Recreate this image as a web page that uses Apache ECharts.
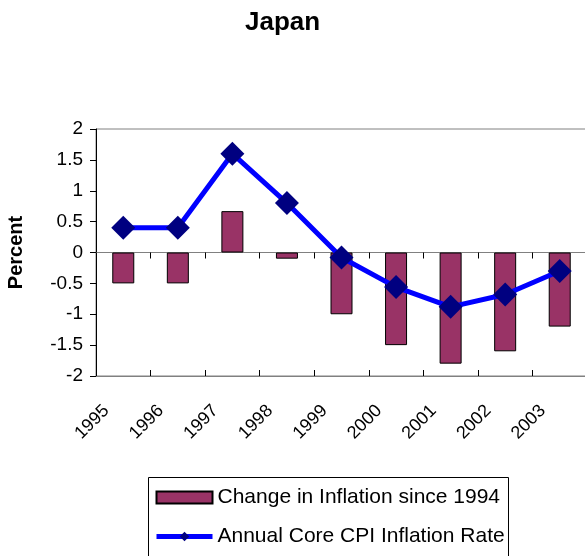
<!DOCTYPE html>
<html>
<head>
<meta charset="utf-8">
<script src="https://cdn.jsdelivr.net/npm/echarts@6/dist/echarts.min.js"></script>
<style>
html, body { margin: 0; padding: 0; background: #fff; }
#chart { width: 585px; height: 556px; }
</style>
</head>
<body>
<div id="chart"></div>
<script>
const years = ['1995', '1996', '1997', '1998', '1999', '2000', '2001', '2002', '2003'];
const changeSince1994 = [-0.5, -0.5, 0.67, -0.1, -1.0, -1.5, -1.8, -1.6, -1.2];
const coreCpiRate = [0.4, 0.4, 1.6, 0.8, -0.08, -0.56, -0.88, -0.68, -0.3];

const FONT = 'Liberation Sans, Arial, sans-serif';

const chart = echarts.init(document.getElementById('chart'));

const option = {
    animation: false,
    title: {
        text: 'Japan',
        left: 240,
        top: 5,
        textStyle: { fontFamily: FONT, fontSize: 26, fontWeight: 'bold', color: '#000' }
    },
    // legend frame runs off the bottom edge like in the original
    graphic: [{
        type: 'rect',
        shape: { x: 148.5, y: 477.5, width: 360, height: 100 },
        style: { fill: 'none', stroke: '#000', lineWidth: 1 },
        z: 10
    }],
    legend: {
        orient: 'vertical',
        left: 154,
        top: 487,
        padding: 0,
        itemGap: 18,
        itemWidth: 56,
        itemHeight: 12,
        data: [
            { name: 'Change in Inflation since 1994', icon: 'rect' },
            { name: 'Annual Core CPI Inflation Rate', lineStyle: { width: 5 } }
        ],
        textStyle: { fontFamily: FONT, fontSize: 21, color: '#000' }
    },
    grid: {
        left: 96,
        top: 129,
        width: 491,
        height: 247,
        outerBoundsMode: 'none',
        containLabel: false,
        show: true,
        borderColor: '#808080',
        borderWidth: 1
    },
    xAxis: [{
        // axis line through zero, ticks below
        type: 'category',
        data: years,
        axisLine: { onZero: true, lineStyle: { color: '#808080', width: 1 } },
        axisTick: { show: true, length: 6, lineStyle: { color: '#000' } },
        axisLabel: { show: false },
        splitLine: { show: false }
    }, {
        // same line, ticks above
        type: 'category',
        position: 'bottom',
        data: years,
        axisLine: { onZero: true, lineStyle: { color: '#808080', width: 1 } },
        axisTick: { show: true, inside: true, length: 6, lineStyle: { color: '#000' } },
        axisLabel: { show: false },
        splitLine: { show: false }
    }, {
        // labels along the bottom of the plot
        type: 'category',
        position: 'bottom',
        data: years,
        axisLine: { show: false, onZero: false },
        axisTick: { show: false },
        axisLabel: {
            rotate: 45,
            margin: 15,
            padding: [0, 24, 0, 0],
            fontFamily: FONT,
            fontSize: 18,
            color: '#000'
        },
        splitLine: { show: false }
    }],
    yAxis: {
        type: 'value',
        min: -2,
        max: 2,
        interval: 0.5,
        name: 'Percent',
        nameLocation: 'middle',
        nameRotate: 90,
        nameGap: 70,
        nameTextStyle: { fontFamily: FONT, fontSize: 20, fontWeight: 'bold', color: '#000' },
        axisLine: { show: true, lineStyle: { color: '#000', width: 1 } },
        axisTick: { show: true, length: 6, lineStyle: { color: '#000' } },
        axisLabel: { margin: 13, fontFamily: FONT, fontSize: 19, color: '#000' },
        splitLine: { show: false }
    },
    series: [{
        name: 'Change in Inflation since 1994',
        type: 'bar',
        xAxisIndex: 0,
        barWidth: 22,
        itemStyle: { color: '#993366', borderColor: '#000', borderWidth: 1 },
        data: changeSince1994
    }, {
        name: 'Annual Core CPI Inflation Rate',
        type: 'line',
        xAxisIndex: 0,
        symbol: 'diamond',
        symbolSize: 24,
        lineStyle: { color: '#0000ff', width: 5 },
        itemStyle: { color: '#000080' },
        data: coreCpiRate
    }]
};

chart.setOption(option);
</script>
</body>
</html>
